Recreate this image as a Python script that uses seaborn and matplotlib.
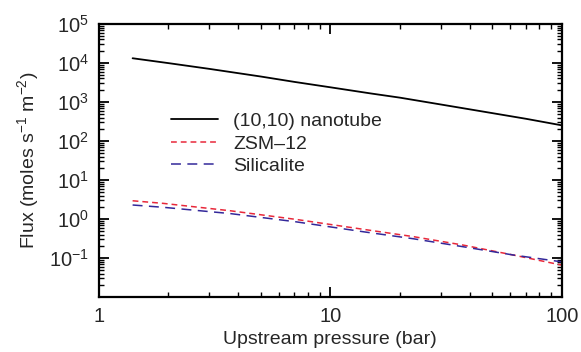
import numpy as np
import matplotlib
matplotlib.use("Agg")
import matplotlib.pyplot as plt
import seaborn as sns
from matplotlib.ticker import LogLocator, FixedLocator, FixedFormatter, NullFormatter

# values
p_tube = [1.4, 2, 3, 5, 7, 10, 15, 20, 30, 50, 70, 100]
nanotube = [13200, 9900, 7060, 4500, 3270, 2380, 1650, 1290, 863, 519, 371, 252]

p_zeo = [1.4, 1.9, 3.7, 7.1, 13.9, 22.8, 37.5, 61.6, 100]
zsm12 = [2.94, 2.52, 1.63, 0.98, 0.545, 0.355, 0.215, 0.12, 0.066]
silicalite = [2.29, 2.0, 1.38, 0.85, 0.472, 0.313, 0.195, 0.12, 0.080]

sns.set_style("ticks")
plt.rcParams['font.family'] = ['Liberation Sans', 'DejaVu Sans']
plt.rcParams['mathtext.fontset'] = 'custom'
plt.rcParams['mathtext.rm'] = 'Liberation Sans'
plt.rcParams['mathtext.it'] = 'Liberation Sans:italic'

fig = plt.figure(figsize=(5.81, 3.52), dpi=100)
ax = fig.add_axes([0.170, 0.156, 0.797, 0.776])

sns.lineplot(x=p_tube, y=nanotube, ax=ax, color='black', lw=1.3,
             label='(10,10) nanotube')
sns.lineplot(x=p_zeo, y=zsm12, ax=ax, color='#e8283a', lw=1.1,
             label='ZSM\u201312')
sns.lineplot(x=p_zeo, y=silicalite, ax=ax, color='#33289a', lw=1.1,
             label='Silicalite')
ax.lines[1].set_dashes([3.8, 2.6])
ax.lines[2].set_dashes([6.5, 4.2])

ax.set_xscale('log')
ax.set_yscale('log')
ax.set_xlim(1, 100)
ax.set_ylim(1e-2, 1e5)

ax.xaxis.set_major_locator(FixedLocator([1, 10, 100]))
ax.xaxis.set_major_formatter(FixedFormatter(['1', '10', '100']))
ax.xaxis.set_minor_locator(LogLocator(base=10, subs=np.arange(2, 10)))
ax.xaxis.set_minor_formatter(NullFormatter())
ax.yaxis.set_major_locator(FixedLocator([1e-1, 1, 1e1, 1e2, 1e3, 1e4, 1e5]))
ax.yaxis.set_major_formatter(FixedFormatter(
    ['$10^{-1}$', '$10^{0}$', '$10^{1}$', '$10^{2}$', '$10^{3}$', '$10^{4}$', '$10^{5}$']))
ax.yaxis.set_minor_locator(LogLocator(base=10, subs=np.arange(2, 10), numticks=20))
ax.yaxis.set_minor_formatter(NullFormatter())

ax.tick_params(which='both', direction='in', top=True, right=True,
               bottom=True, left=True, labelsize=14.5, color='black')
ax.tick_params(which='major', length=7, width=1.3, pad=7)
ax.tick_params(which='minor', length=3.5, width=1.0)
for s in ax.spines.values():
    s.set_linewidth(1.6)
    s.set_color('black')

ax.set_xlabel('Upstream pressure (bar)', fontsize=14, labelpad=4)
ax.set_ylabel('Flux (moles s$^{-1}$ m$^{-2}$)', fontsize=14, labelpad=6)

ax.legend(loc='upper left', bbox_to_anchor=(0.118, 0.74), frameon=False,
          fontsize=14, handlelength=2.4, handletextpad=0.8, labelspacing=0.25)

fig.savefig('out.png', dpi=100)
